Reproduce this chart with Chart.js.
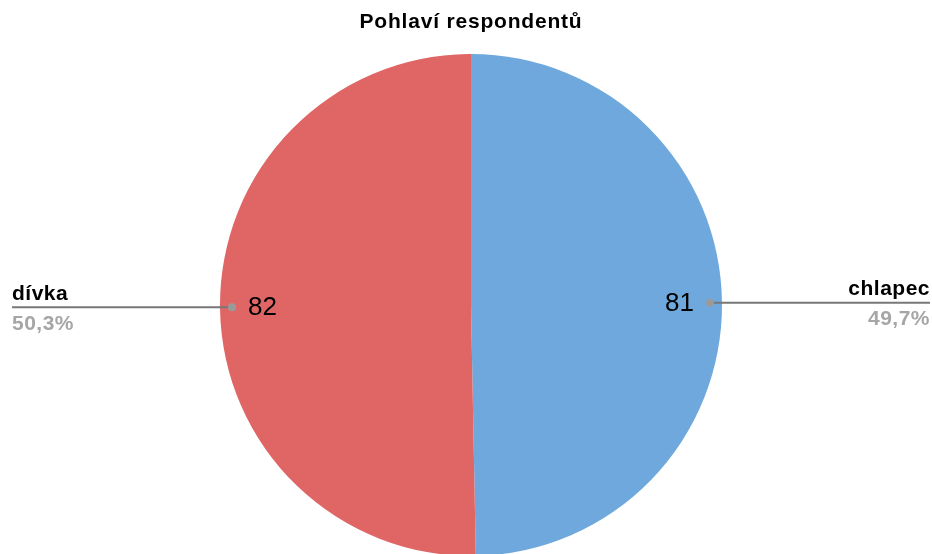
<!DOCTYPE html>
<html>
<head>
<meta charset="utf-8">
<script src="https://cdn.jsdelivr.net/npm/chart.js@4.4.0/dist/chart.umd.min.js"></script>
<style>
  body { margin: 0; background: #fff; overflow: hidden; }
  #wrap { width: 932px; height: 556px; }
</style>
</head>
<body>
<div id="wrap"><canvas id="myChart"></canvas></div>
<script>
const chartTitle = 'Pohlaví respondentů';
const categories = ['chlapec', 'dívka'];
const counts = [81, 82];
const sliceColors = ['#6fa8dc', '#e06666'];

const total = counts.reduce((a, b) => a + b, 0);
const pct = v => (v / total * 100).toFixed(1).replace('.', ',') + '%';

// labels with leader lines out to the canvas edges
const sideLabels = {
  id: 'sideLabels',
  afterDraw(chart) {
    const c = chart.ctx;
    const meta = chart.getDatasetMeta(0);
    const W = chart.width;

    c.save();
    c.fillStyle = '#000';
    c.font = 'bold 21px "Liberation Sans", Arial, sans-serif';
    c.letterSpacing = '0.8px';
    c.textAlign = 'center';
    c.textBaseline = 'middle';
    c.fillText(chartTitle, W / 2 + 5, 22);

    meta.data.forEach((arc, i) => {
      const p = arc.getProps(['x', 'y', 'startAngle', 'endAngle', 'outerRadius'], true);
      const mid = (p.startAngle + p.endAngle) / 2;
      const r = p.outerRadius - 12;
      const dx = p.x + Math.cos(mid) * r;
      const dy = p.y + Math.sin(mid) * r;
      const right = Math.cos(mid) > 0;
      const edge = right ? W - 2 : 12;

      // leader line
      c.strokeStyle = '#777';
      c.lineWidth = 2;
      c.beginPath();
      c.moveTo(dx, dy);
      c.lineTo(edge, dy);
      c.stroke();
      c.fillStyle = '#9a9a9a';
      c.beginPath();
      c.arc(dx, dy, 4, 0, Math.PI * 2);
      c.fill();

      // value inside slice
      c.letterSpacing = '0px';
      c.fillStyle = '#000';
      c.font = '26px "Liberation Sans", Arial, sans-serif';
      c.textBaseline = 'middle';
      c.textAlign = right ? 'right' : 'left';
      c.fillText(String(counts[i]), right ? dx - 16 : dx + 16, dy + 1);

      // category + percent
      c.letterSpacing = '0.5px';
      c.font = 'bold 21px "Liberation Sans", Arial, sans-serif';
      c.textBaseline = 'alphabetic';
      c.fillText(categories[i], edge, dy - 7.5);
      c.fillStyle = '#a6a6a6';
      c.fillText(pct(counts[i]), edge, dy + 22.5);
    });
    c.restore();
  }
};

new Chart(document.getElementById('myChart'), {
  type: 'pie',
  data: {
    labels: categories,
    datasets: [{
      data: counts,
      backgroundColor: sliceColors,
      borderWidth: 0
    }]
  },
  options: {
    responsive: true,
    maintainAspectRatio: false,
    animation: false,
    layout: { padding: { top: 54, bottom: 0, left: 10, right: 0 } },
    plugins: {
      legend: { display: false },
      tooltip: { enabled: false },
      title: { display: false }
    }
  },
  plugins: [sideLabels]
});
</script>
</body>
</html>
